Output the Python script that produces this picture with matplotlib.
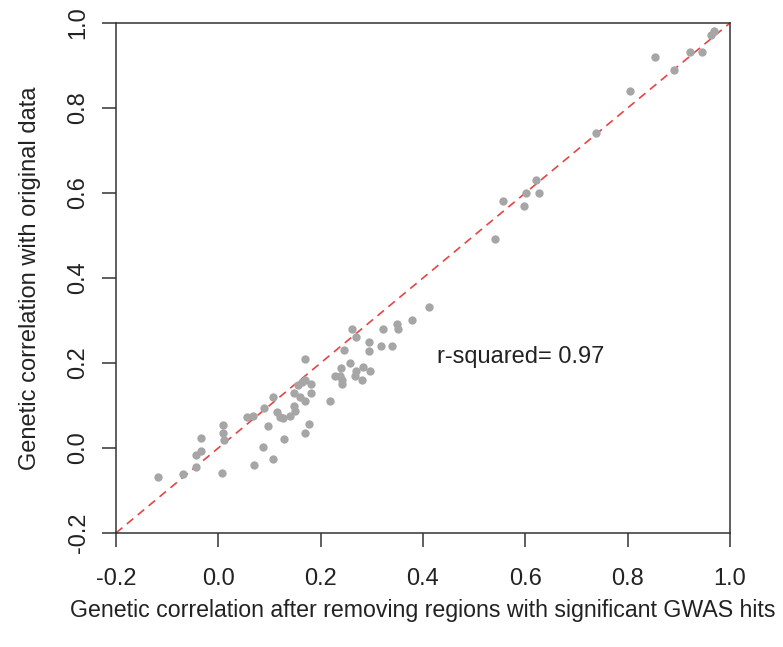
import matplotlib
matplotlib.use("Agg")
import matplotlib.pyplot as plt

# genetic correlation after removing GWAS regions (x) vs original (y)
rg_removed = [
    -0.117, -0.069, -0.044, -0.044, -0.033, -0.033, 0.007, 0.010, 0.010, 0.012,
    0.057, 0.067, 0.070, 0.087, 0.090, 0.098, 0.106, 0.107, 0.115, 0.121,
    0.126, 0.128, 0.141, 0.147, 0.147, 0.150, 0.156, 0.160, 0.163, 0.169,
    0.169, 0.170, 0.170, 0.178, 0.182, 0.182, 0.218, 0.228, 0.238, 0.240,
    0.241, 0.241, 0.246, 0.257, 0.262, 0.267, 0.270, 0.270, 0.280, 0.282,
    0.294, 0.294, 0.296, 0.317, 0.321, 0.339, 0.349, 0.351, 0.378, 0.412,
    0.541, 0.556, 0.598, 0.601, 0.620, 0.627, 0.738, 0.804, 0.853, 0.891,
    0.922, 0.945, 0.962, 0.969,
]
rg_original = [
    -0.068, -0.061, -0.044, -0.016, -0.006, 0.024, -0.058, 0.054, 0.035, 0.019,
    0.074, 0.075, -0.040, 0.002, 0.095, 0.051, 0.120, -0.027, 0.084, 0.074,
    0.070, 0.020, 0.076, 0.099, 0.130, 0.087, 0.149, 0.119, 0.156, 0.160,
    0.110, 0.209, 0.036, 0.056, 0.150, 0.130, 0.111, 0.169, 0.169, 0.188,
    0.160, 0.150, 0.231, 0.201, 0.280, 0.169, 0.180, 0.260, 0.160, 0.190,
    0.250, 0.229, 0.180, 0.240, 0.280, 0.240, 0.291, 0.279, 0.300, 0.331,
    0.491, 0.580, 0.570, 0.599, 0.631, 0.601, 0.740, 0.841, 0.921, 0.889,
    0.931, 0.931, 0.972, 0.982,
]
ticks = [-0.2, 0.0, 0.2, 0.4, 0.6, 0.8, 1.0]
r_squared = 0.97

plt.rcParams["font.family"] = ["Liberation Sans", "DejaVu Sans"]

fig = plt.figure(figsize=(7.83, 6.47), dpi=100)
ax = fig.add_axes([0.1481, 0.1762, 0.7842, 0.7883])

ax.scatter(rg_removed, rg_original, s=36, color="#a6a6a6", linewidths=0, zorder=3)
ax.plot([-0.2, 1.0], [-0.2, 1.0], color="#e64545", lw=1.2,
        linestyle=(0, (5, 3.5)), zorder=2)

ax.text(0.59, 0.214, f"r-squared= {r_squared}", fontsize=17,
        ha="center", va="center", color="#222222")

ax.set_xlim(-0.2, 1.0)
ax.set_ylim(-0.2, 1.0)
ax.set_xticks(ticks)
ax.set_yticks(ticks)
ax.set_xticklabels([f"{t:.1f}" for t in ticks])
ax.set_yticklabels([f"{t:.1f}" for t in ticks], rotation=90, va="center")

for sp in ax.spines.values():
    sp.set_linewidth(1.1)
    sp.set_color("#333333")
ax.tick_params(direction="out", length=10, width=1.1, color="#333333",
               labelsize=17, labelcolor="#222222")
ax.tick_params(axis="x", pad=15)
ax.tick_params(axis="y", pad=9)

ax.set_xlabel("Genetic correlation after removing regions with significant GWAS hits",
              fontsize=16.7, labelpad=7, color="#222222")
ax.set_ylabel("Genetic correlation with original data", fontsize=17,
              labelpad=19, color="#222222")

fig.savefig("out.png", dpi=100)
